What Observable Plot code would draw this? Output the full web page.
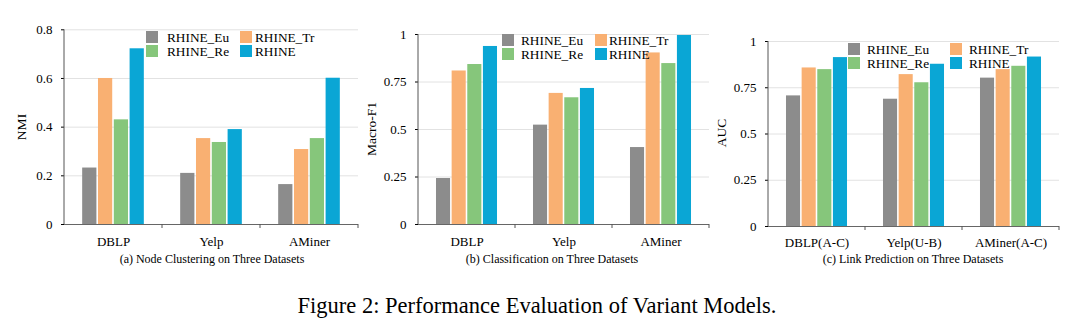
<!DOCTYPE html>
<html><head><meta charset="utf-8">
<script src="https://cdn.jsdelivr.net/npm/d3@7"></script>
<script src="https://cdn.jsdelivr.net/npm/@observablehq/plot@0.6"></script>
<style>
body{margin:0;background:#fff;font-family:"Liberation Serif","Times New Roman",serif;color:#000}
#fig{position:relative;width:1080px;height:335px;overflow:hidden;background:#fff}
.panel{position:absolute;top:0}
.sq{position:absolute;width:12px;height:12px}
.lt{position:absolute;font-size:13.3px;line-height:12px;height:12px;white-space:nowrap}
.ylab{position:absolute;font-size:13.5px;white-space:nowrap;transform:translate(-50%,-50%) rotate(-90deg)}
.cap{position:absolute;font-size:12px;white-space:nowrap;transform:translate(-50%,-50%)}
.fig{position:absolute;font-size:22.5px;white-space:nowrap;transform:translate(-50%,-50%)}
</style></head>
<body><div id="fig"></div>
<script>
const series = ["RHINE_Eu","RHINE_Tr","RHINE_Re","RHINE"];
const colors = ["#8c8c8c","#f9b072","#86c67b","#0aa6d5"];
const datasetsAB = ["DBLP","Yelp","AMiner"];
const datasetsC = ["DBLP(A-C)","Yelp(U-B)","AMiner(A-C)"];

const nmiEu    = [0.232, 0.210, 0.164];
const nmiTr    = [0.600, 0.353, 0.308];
const nmiRe    = [0.430, 0.337, 0.353];
const nmiRhine = [0.722, 0.390, 0.601];

const f1Eu    = [0.242, 0.523, 0.405];
const f1Tr    = [0.808, 0.690, 0.903];
const f1Re    = [0.842, 0.667, 0.847];
const f1Rhine = [0.937, 0.716, 0.995];

const aucEu    = [0.706, 0.688, 0.802];
const aucTr    = [0.857, 0.821, 0.848];
const aucRe    = [0.848, 0.777, 0.866];
const aucRhine = [0.913, 0.877, 0.916];

const nmiTicks = [0, 0.2, 0.4, 0.6, 0.8];
const unitTicks = [0, 0.25, 0.5, 0.75, 1];

const yLabels = ["NMI", "Macro-F1", "AUC"];
const captions = ["(a) Node Clustering on Three Datasets", "(b) Classification on Three Datasets", "(c) Link Prediction on Three Datasets"];
const figCaption = "Figure 2: Performance Evaluation of Variant Models.";

const fig = document.getElementById("fig");

function panel(cfg) {
  const data = cfg.categories.flatMap((c, i) => series.map((s, j) => ({dataset: c, series: s, value: cfg.values[j][i]})));
  const chart = Plot.plot({
    width: cfg.width, height: 250,
    marginLeft: cfg.mL, marginRight: cfg.mR, marginTop: cfg.mT, marginBottom: cfg.mB,
    style: {fontFamily: '"Liberation Serif","Times New Roman",serif', fontSize: "13px", color: "#000", background: "transparent", overflow: "visible"},
    fx: {domain: cfg.categories, padding: 0, label: null, axis: "bottom", tickSize: 0, tickPadding: cfg.tp},
    x: {domain: series, axis: null, paddingInner: 0.1, paddingOuter: 1.15, round: false},
    y: {domain: [0, cfg.ticks[cfg.ticks.length - 1]], ticks: cfg.ticks, tickSize: 3, tickPadding: 9, label: null, tickFormat: d => String(d)},
    color: {domain: series, range: colors},
    marks: [
      Plot.gridY(cfg.ticks.slice(1), {stroke: "#e2e2e2", strokeOpacity: 1}),
      Plot.barY(data, {fx: "dataset", x: "series", y: "value", fill: "series"}),
      Plot.ruleY([0], {stroke: "#666", strokeWidth: 1})
    ]
  });
  // axis line and group-boundary ticks from the plot's own scales
  const fx = chart.scale("fx"), y = chart.scale("y");
  const starts = cfg.categories.map(c => fx.apply(c));
  const end = starts[starts.length - 1] + fx.bandwidth;
  const y0 = y.apply(0), yTop = y.apply(cfg.ticks[cfg.ticks.length - 1]);
  const g = d3.select(chart).append("g").attr("stroke", "#555").attr("stroke-width", 1);
  g.append("line").attr("x1", starts[0]).attr("x2", starts[0]).attr("y1", yTop).attr("y2", y0);
  for (const bx of [...starts.slice(1), end]) {
    g.append("line").attr("x1", bx).attr("x2", bx).attr("y1", y0).attr("y2", y0 + 4);
  }
  const div = document.createElement("div");
  div.className = "panel";
  div.style.left = cfg.left + "px";
  div.appendChild(chart);
  fig.appendChild(div);

  // legend
  const L = cfg.legend;
  series.forEach((s, j) => {
    const col = j % 2, row = Math.floor(j / 2);
    const sq = document.createElement("div");
    sq.className = "sq";
    sq.style.background = colors[j];
    sq.style.left = (col ? L.sx2 : L.sx1) + "px";
    sq.style.top = (L.top + row * 14) + "px";
    fig.appendChild(sq);
    const t = document.createElement("div");
    t.className = "lt";
    t.textContent = s;
    t.style.left = (col ? L.tx2 : L.tx1) + "px";
    t.style.top = (L.top + row * 14 + 1) + "px";
    fig.appendChild(t);
  });
  const yl = document.createElement("div");
  yl.className = "ylab"; yl.textContent = cfg.ylabel;
  yl.style.left = cfg.ylx + "px"; yl.style.top = cfg.yly + "px";
  fig.appendChild(yl);
  const cp = document.createElement("div");
  cp.className = "cap"; cp.textContent = cfg.caption;
  cp.style.left = cfg.cx + "px"; cp.style.top = "259px";
  fig.appendChild(cp);
}

panel({left: 0, width: 370, mL: 63, mR: 10.5, mT: 29.3, mB: 26, tp: 12,
  categories: datasetsAB, values: [nmiEu, nmiTr, nmiRe, nmiRhine], ticks: nmiTicks,
  legend: {sx1: 146, sx2: 240, tx1: 167, tx2: 255, top: 31},
  ylabel: yLabels[0], ylx: 22, yly: 127, caption: captions[0], cx: 212});
panel({left: 355, width: 365, mL: 63, mR: 11, mT: 34, mB: 26, tp: 12,
  categories: datasetsAB, values: [f1Eu, f1Tr, f1Re, f1Rhine], ticks: unitTicks,
  legend: {sx1: 502, sx2: 595, tx1: 521, tx2: 609, top: 34},
  ylabel: yLabels[1], ylx: 372, yly: 129, caption: captions[1], cx: 552});
panel({left: 715, width: 365, mL: 52, mR: 20, mT: 41, mB: 24, tp: 11,
  categories: datasetsC, values: [aucEu, aucTr, aucRe, aucRhine], ticks: unitTicks,
  legend: {sx1: 848, sx2: 950, tx1: 867, tx2: 969, top: 43},
  ylabel: yLabels[2], ylx: 722, yly: 133, caption: captions[2], cx: 913});

const fc = document.createElement("div");
fc.className = "fig"; fc.textContent = figCaption;
fc.style.left = "537px"; fc.style.top = "306px";
fig.appendChild(fc);
</script></body></html>
